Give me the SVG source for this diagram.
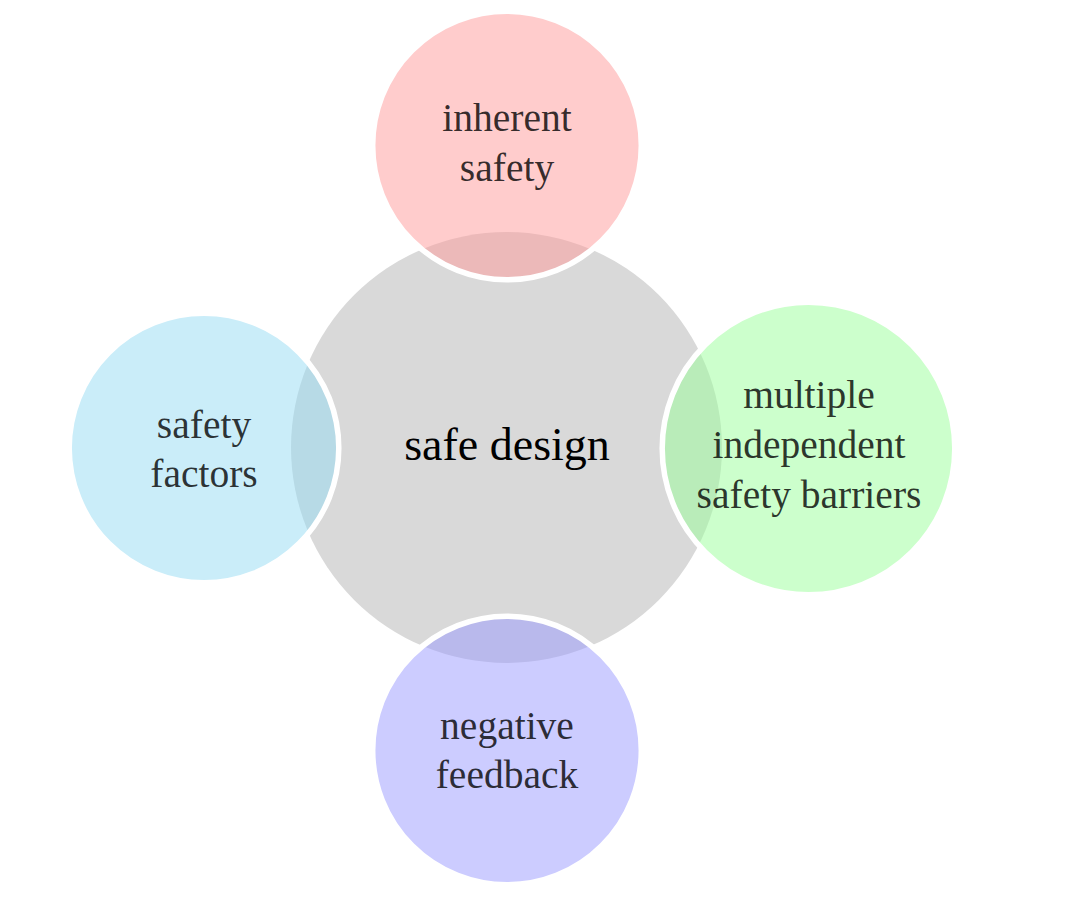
<svg xmlns="http://www.w3.org/2000/svg" width="1084" height="912" viewBox="0 0 1084 912">
<style>
.sat{stroke:#ffffff;stroke-width:5.5;}
.lbl{font-family:"Liberation Serif","DejaVu Serif",serif;font-size:39.5px;fill:#000000;fill-opacity:0.8;text-anchor:middle;}
.ctr{font-family:"Liberation Serif","DejaVu Serif",serif;font-size:46px;fill:#000000;text-anchor:middle;}
</style>
<rect width="1084" height="912" fill="#ffffff"/>
<g id="center">
<circle cx="506.5" cy="447.5" r="215.5" fill="#d9d9d9"/>
<text class="ctr" x="507" y="460">safe design</text>
</g>
<g id="connectors"></g>
<g id="inherent-safety">
<circle class="sat" cx="507" cy="145.5" r="134.3" fill="#ff9999" fill-opacity="0.5"/>
<text class="lbl" x="507" y="131">inherent</text>
<text class="lbl" x="507" y="181">safety</text>
</g>
<g id="multiple-barriers">
<circle class="sat" cx="808.5" cy="448.5" r="146.3" fill="#99ff99" fill-opacity="0.5"/>
<text class="lbl" x="809" y="408">multiple</text>
<text class="lbl" x="809" y="458">independent</text>
<text class="lbl" x="809" y="508">safety barriers</text>
</g>
<g id="negative-feedback">
<circle class="sat" cx="507" cy="750.5" r="134.3" fill="#9999ff" fill-opacity="0.5"/>
<text class="lbl" x="507" y="739">negative</text>
<text class="lbl" x="507" y="788">feedback</text>
</g>
<g id="safety-factors">
<circle class="sat" cx="204" cy="448" r="134.8" fill="#95dbf3" fill-opacity="0.5"/>
<text class="lbl" x="204" y="438">safety</text>
<text class="lbl" x="204" y="487">factors</text>
</g>
</svg>
